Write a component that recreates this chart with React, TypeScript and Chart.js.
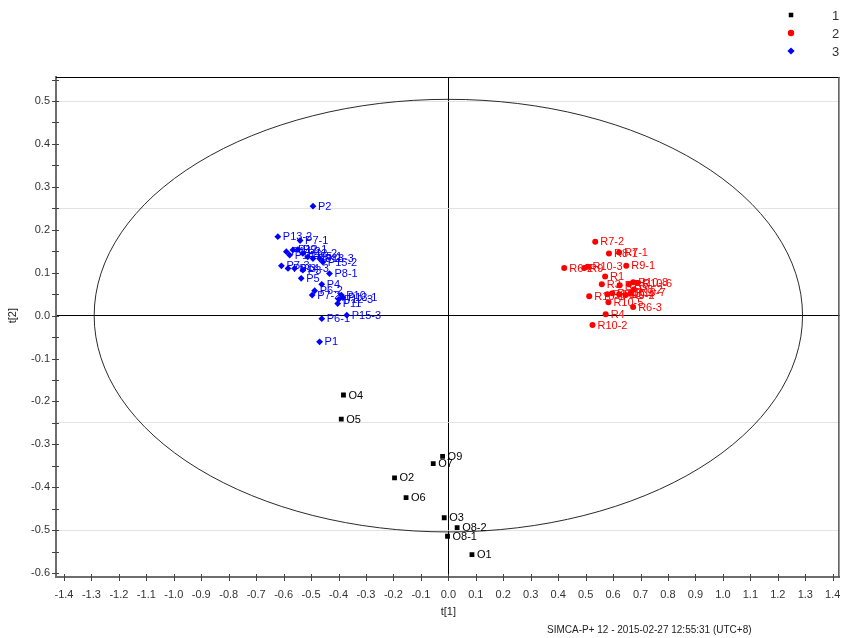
import React, { useEffect, useRef } from "react";
import { Chart, registerables } from "chart.js";

Chart.register(...registerables);

// ---------- data ----------
const GROUP_NAMES = ["1", "2", "3"];
const GROUP_COLORS = ["#000000", "#ff0000", "#0000ff"];
const GROUP_SHAPES = ["rect", "circle", "rectRot"];
const GROUP_RADII = [3.4, 3, 3.4];

const O_LABELS = ["O1", "O2", "O3", "O4", "O5", "O6", "O7", "O8-1", "O8-2", "O9"];
const O_X = [0.086, -0.196, -0.015, -0.382, -0.39, -0.154, -0.055, -0.003, 0.032, -0.021];
const O_Y = [-0.557, -0.378, -0.471, -0.185, -0.241, -0.424, -0.345, -0.514, -0.494, -0.328];

const R_LABELS = [
  "R7-2", "R8-1", "R7-1", "R6-2", "R9", "R10-3", "R9-1", "R1", "R3", "R2",
  "R5", "R10-8", "R10-6", "R8-2", "R10-7", "R10-1", "R6-1", "R7-3", "R10-4", "R9-2",
  "R10-5", "R6-3", "R4", "R10-2",
];
const R_X = [
  0.535, 0.585, 0.622, 0.422, 0.495, 0.507, 0.648, 0.571, 0.559, 0.624,
  0.658, 0.673, 0.688, 0.676, 0.664, 0.513, 0.579, 0.597, 0.622, 0.646,
  0.583, 0.673, 0.573, 0.525,
];
const R_Y = [
  0.172, 0.145, 0.147, 0.111, 0.111, 0.114, 0.116, 0.091, 0.073, 0.071,
  0.073, 0.078, 0.076, 0.061, 0.053, 0.045, 0.05, 0.052, 0.05, 0.048,
  0.031, 0.02, 0.003, -0.022,
];

const P_LABELS = [
  "P2", "P13-2", "P7-1", "P14-2", "P12-1", "P9", "P14-1", "P12-2", "P15-1", "P8-2",
  "P13-3", "P15-2", "P7-3", "P6-3", "P14-3", "P3", "P5", "P8-1", "P4", "P6-2",
  "P7-2", "P10", "P13-1", "P12-3", "P11", "P6-1", "P15-3", "P1",
];
const P_X = [
  -0.493, -0.621, -0.54, -0.59, -0.566, -0.548, -0.578, -0.53, -0.512, -0.493,
  -0.469, -0.457, -0.608, -0.584, -0.56, -0.53, -0.536, -0.433, -0.461, -0.487,
  -0.496, -0.39, -0.384, -0.399, -0.403, -0.461, -0.37, -0.469,
];
const P_Y = [
  0.255, 0.184, 0.175, 0.149, 0.153, 0.154, 0.141, 0.145, 0.137, 0.133,
  0.133, 0.125, 0.116, 0.11, 0.11, 0.106, 0.087, 0.098, 0.073, 0.058,
  0.048, 0.048, 0.042, 0.038, 0.028, -0.007, 0.001, -0.061,
];

const X_TICKS = [
  -1.4, -1.3, -1.2, -1.1, -1.0, -0.9, -0.8, -0.7, -0.6, -0.5, -0.4, -0.3, -0.2, -0.1,
  0, 0.1, 0.2, 0.3, 0.4, 0.5, 0.6, 0.7, 0.8, 0.9, 1.0, 1.1, 1.2, 1.3, 1.4,
];
const Y_TICKS = [
  -0.6, -0.55, -0.5, -0.45, -0.4, -0.35, -0.3, -0.25, -0.2, -0.15, -0.1, -0.05,
  0, 0.05, 0.1, 0.15, 0.2, 0.25, 0.3, 0.35, 0.4, 0.45, 0.5, 0.55,
];
const Y_GRID = [-0.5, -0.25, 0.25, 0.5];
const X_RANGE = [-1.429, 1.425];
const Y_RANGE = [-0.609, 0.556];
const ELLIPSE_AXES = [1.29, 0.504];

const X_TITLE = "t[1]";
const Y_TITLE = "t[2]";
const FOOTER = "SIMCA-P+ 12 - 2015-02-27 12:55:31 (UTC+8)";

const FONT = "'Liberation Sans', Arial, sans-serif";

function isTenth(v: number) {
  return Math.abs(v * 10 - Math.round(v * 10)) < 1e-6;
}

function drawShape(ctx: CanvasRenderingContext2D, shape: string, x: number, y: number, r: number) {
  ctx.beginPath();
  if (shape === "rect") {
    const s = r * Math.SQRT1_2;
    ctx.rect(x - s, y - s, 2 * s, 2 * s);
  } else if (shape === "circle") {
    ctx.arc(x, y, r, 0, Math.PI * 2);
  } else {
    ctx.moveTo(x, y - r);
    ctx.lineTo(x + r, y);
    ctx.lineTo(x, y + r);
    ctx.lineTo(x - r, y);
    ctx.closePath();
  }
  ctx.fill();
}

const decorPlugin = {
  id: "decor",
  beforeDatasetsDraw(chart: any) {
    const { ctx, chartArea, scales } = chart;
    const xs = scales.x;
    const ys = scales.y;
    ctx.save();
    ctx.beginPath();
    ctx.rect(chartArea.left, chartArea.top, chartArea.right - chartArea.left, chartArea.bottom - chartArea.top);
    ctx.clip();
    const cx = xs.getPixelForValue(0);
    const cy = ys.getPixelForValue(0);
    const rx = xs.getPixelForValue(ELLIPSE_AXES[0]) - cx;
    const ry = cy - ys.getPixelForValue(ELLIPSE_AXES[1]);
    ctx.beginPath();
    ctx.ellipse(cx, cy, rx, ry, 0, 0, Math.PI * 2);
    ctx.strokeStyle = "#2a2a2a";
    ctx.lineWidth = 1;
    ctx.stroke();
    ctx.restore();
  },
  afterDatasetsDraw(chart: any) {
    const { ctx } = chart;
    ctx.save();
    ctx.font = `11px ${FONT}`;
    ctx.textBaseline = "middle";
    ctx.textAlign = "left";
    chart.data.datasets.forEach((ds: any, i: number) => {
      const meta = chart.getDatasetMeta(i);
      ctx.fillStyle = ds.backgroundColor;
      meta.data.forEach((el: any, j: number) => {
        ctx.fillText(ds.data[j].label, el.x + 5, el.y + 0.5);
      });
    });
    ctx.restore();
  },
  afterDraw(chart: any) {
    const { ctx, chartArea, scales } = chart;
    const xs = scales.x;
    const ys = scales.y;
    ctx.save();
    // frame top / right
    ctx.strokeStyle = "#000";
    ctx.lineWidth = 1;
    ctx.beginPath();
    ctx.moveTo(chartArea.left, chartArea.top + 0.5);
    ctx.lineTo(chartArea.right, chartArea.top + 0.5);
    ctx.stroke();
    ctx.strokeStyle = "#555";
    ctx.lineWidth = 1.5;
    ctx.beginPath();
    ctx.moveTo(chartArea.right - 0.75, chartArea.top);
    ctx.lineTo(chartArea.right - 0.75, chartArea.bottom);
    ctx.stroke();
    // tick marks crossing the axes
    ctx.strokeStyle = "#444";
    ctx.lineWidth = 1;
    ctx.beginPath();
    X_TICKS.forEach((v) => {
      const px = Math.round(xs.getPixelForValue(v)) + 0.5;
      ctx.moveTo(px, chartArea.bottom - 3);
      ctx.lineTo(px, chartArea.bottom + 4);
    });
    Y_TICKS.forEach((v) => {
      const py = Math.round(ys.getPixelForValue(v)) + 0.5;
      ctx.moveTo(chartArea.left - 4, py);
      ctx.lineTo(chartArea.left + 3, py);
    });
    ctx.stroke();
    // axis titles
    ctx.fillStyle = "#222";
    ctx.font = `11px ${FONT}`;
    ctx.textAlign = "center";
    ctx.textBaseline = "middle";
    ctx.fillText(X_TITLE, xs.getPixelForValue(0), 612);
    ctx.save();
    ctx.translate(13, ys.getPixelForValue(0));
    ctx.rotate(-Math.PI / 2);
    ctx.fillText(Y_TITLE, 0, 0);
    ctx.restore();
    // footer
    ctx.font = `10px ${FONT}`;
    ctx.textAlign = "left";
    ctx.fillStyle = "#222";
    ctx.fillText(FOOTER, 547, 630);
    // legend
    GROUP_NAMES.forEach((name, i) => {
      const y = 15 + i * 18;
      ctx.fillStyle = GROUP_COLORS[i];
      drawShape(ctx, GROUP_SHAPES[i], 791, y, i === 2 ? 3.6 : 3.2);
      ctx.fillStyle = "#333";
      ctx.font = `13px ${FONT}`;
      ctx.textAlign = "left";
      ctx.fillText(name, 832, y + 1);
    });
    ctx.restore();
  },
};

function makeData(labels: string[], xs: number[], ys: number[]) {
  return xs.map((x, j) => ({ x, y: ys[j], label: labels[j] }));
}

export default function App() {
  const canvasRef = useRef<HTMLCanvasElement | null>(null);

  useEffect(() => {
    const canvas = canvasRef.current;
    if (!canvas) return;
    const groups = [
      makeData(O_LABELS, O_X, O_Y),
      makeData(R_LABELS, R_X, R_Y),
      makeData(P_LABELS, P_X, P_Y),
    ];
    const chart = new Chart(canvas, {
      type: "scatter",
      data: {
        datasets: groups.map((d, i) => ({
          label: GROUP_NAMES[i],
          data: d,
          backgroundColor: GROUP_COLORS[i],
          borderColor: GROUP_COLORS[i],
          borderWidth: 0,
          pointStyle: GROUP_SHAPES[i] as any,
          pointRadius: GROUP_RADII[i],
          pointHoverRadius: GROUP_RADII[i],
        })),
      },
      plugins: [decorPlugin],
      options: {
        responsive: false,
        animation: false,
        devicePixelRatio: 1,
        layout: { padding: { top: 77, right: 2, left: 0, bottom: 0 } },
        plugins: { legend: { display: false }, tooltip: { enabled: false } },
        scales: {
          x: {
            type: "linear",
            min: X_RANGE[0],
            max: X_RANGE[1],
            afterBuildTicks: (s: any) => {
              s.ticks = X_TICKS.map((v) => ({ value: v }));
            },
            afterFit: (s: any) => {
              s.height = 61;
              s.paddingLeft = 0;
              s.paddingRight = 0;
            },
            ticks: {
              autoSkip: false,
              maxRotation: 0,
              padding: 11,
              color: "#333",
              font: { family: FONT, size: 11 },
              callback: (v: any) => Number(v).toFixed(1),
            },
            grid: {
              drawTicks: false,
              lineWidth: 1,
              color: (c: any) => (c.tick && Math.abs(c.tick.value) < 1e-9 ? "#000" : "rgba(0,0,0,0)"),
            },
            border: { display: true, color: "#6e6e6e", width: 2 },
          },
          y: {
            type: "linear",
            min: Y_RANGE[0],
            max: Y_RANGE[1],
            afterBuildTicks: (s: any) => {
              s.ticks = Y_TICKS.map((v) => ({ value: v }));
            },
            afterFit: (s: any) => {
              s.width = 56;
              s.paddingTop = 0;
              s.paddingBottom = 0;
            },
            ticks: {
              autoSkip: false,
              padding: 6,
              color: "#333",
              font: { family: FONT, size: 11 },
              callback: (v: any) => (isTenth(Number(v)) ? Number(v).toFixed(1) : ""),
            },
            grid: {
              drawTicks: false,
              lineWidth: 1,
              color: (c: any) => {
                if (!c.tick) return "rgba(0,0,0,0)";
                const v = c.tick.value;
                if (Math.abs(v) < 1e-9) return "#000";
                if (Y_GRID.some((g) => Math.abs(g - v) < 1e-9)) return "#e3e3e3";
                return "rgba(0,0,0,0)";
              },
            },
            border: { display: true, color: "#6e6e6e", width: 2 },
          },
        },
      },
    });
    return () => chart.destroy();
  }, []);

  return (
    <div style={{ position: "fixed", left: 0, top: 0, width: 843, height: 638, background: "#fff" }}>
      <canvas ref={canvasRef} width={843} height={638} style={{ width: 843, height: 638, display: "block" }} />
    </div>
  );
}
